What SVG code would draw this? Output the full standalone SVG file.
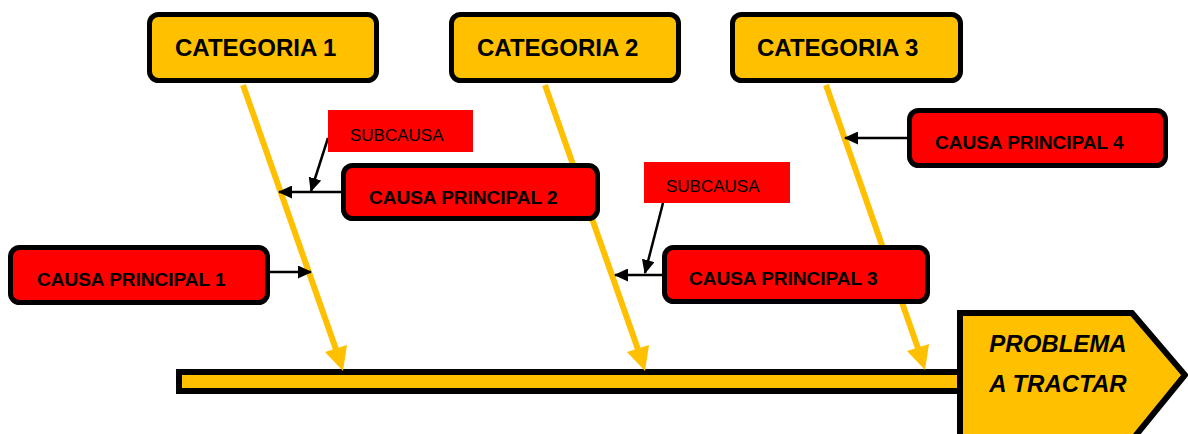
<svg xmlns="http://www.w3.org/2000/svg" width="1188" height="434" viewBox="0 0 1188 434">
  <defs>
    <style>
      .cat { fill: #FFC000; stroke: #000; stroke-width: 5; }
      .cause { fill: #FF0000; stroke: #000; stroke-width: 5; }
      .sub { fill: #FF0000; }
      .bold { font-family: "Liberation Sans", Arial, sans-serif; font-weight: bold; fill: #000; }
      .t-cat { font-size: 24px; }
      .t-cause { font-size: 19px; }
      .t-sub { font-family: "Liberation Sans", Arial, sans-serif; font-size: 17px; fill: #000; }
      .t-prob { font-family: "Liberation Sans", Arial, sans-serif; font-weight: bold; font-style: italic; font-size: 24px; fill: #000; }
      .bone { stroke: #FFC000; stroke-width: 6; fill: none; }
      .link { stroke: #000; stroke-width: 2.5; fill: none; marker-end: url(#blackHead); }
    </style>
    <marker id="blackHead" markerWidth="14" markerHeight="13" refX="13" refY="6.5" orient="auto" markerUnits="userSpaceOnUse" viewBox="0 0 14 13">
      <path d="M0,0 L14,6.5 L0,13 Z" fill="#000"/>
    </marker>
  </defs>

  <!-- main spine -->
  <g id="spine">
    <rect x="179" y="372" width="784" height="19" fill="#FFC000" stroke="#000" stroke-width="6"/>
  </g>

  <!-- category bones with yellow arrowheads -->
  <g id="connectors">
    <line class="bone" x1="243" y1="85" x2="338" y2="355"/>
    <path d="M325,352 L347,345 L343,371 Z" fill="#FFC000"/>
    <line class="bone" x1="545" y1="85" x2="640" y2="355"/>
    <path d="M627,352 L649,345 L645,371 Z" fill="#FFC000"/>
    <line class="bone" x1="826" y1="85" x2="920" y2="354"/>
    <path d="M907,351 L929,344 L925,370 Z" fill="#FFC000"/>

    <!-- cause and sub-cause arrows -->
    <line class="link" x1="270" y1="272" x2="311" y2="272"/>
    <line class="link" x1="341" y1="192" x2="279" y2="192"/>
    <line class="link" x1="328" y1="138" x2="311" y2="191"/>
    <line class="link" x1="662" y1="275" x2="615" y2="275"/>
    <line class="link" x1="663" y1="203" x2="645" y2="273"/>
    <line class="link" x1="907" y1="138" x2="845" y2="138"/>
  </g>

  <!-- categories -->
  <g id="categoria1">
    <rect class="cat" x="149.5" y="14.5" width="227" height="66" rx="9"/>
    <text class="bold t-cat" x="175" y="56">CATEGORIA 1</text>
  </g>
  <g id="categoria2">
    <rect class="cat" x="451.5" y="14.5" width="227" height="66" rx="9"/>
    <text class="bold t-cat" x="477" y="56">CATEGORIA 2</text>
  </g>
  <g id="categoria3">
    <rect class="cat" x="732.5" y="14.5" width="228" height="66" rx="9"/>
    <text class="bold t-cat" x="757" y="56">CATEGORIA 3</text>
  </g>

  <!-- main causes -->
  <g id="causa1">
    <rect class="cause" x="10.5" y="247.5" width="257" height="55" rx="9"/>
    <text class="bold t-cause" x="37" y="286">CAUSA PRINCIPAL 1</text>
  </g>
  <g id="causa2">
    <rect class="cause" x="343.5" y="165.5" width="254" height="53" rx="9"/>
    <text class="bold t-cause" x="369" y="204">CAUSA PRINCIPAL 2</text>
  </g>
  <g id="causa3">
    <rect class="cause" x="664.5" y="247.5" width="263" height="54" rx="9"/>
    <text class="bold t-cause" x="689" y="285">CAUSA PRINCIPAL 3</text>
  </g>
  <g id="causa4">
    <rect class="cause" x="909.5" y="110.5" width="256" height="55" rx="9"/>
    <text class="bold t-cause" x="935" y="149">CAUSA PRINCIPAL 4</text>
  </g>

  <!-- sub-causes -->
  <g id="subcausa1">
    <rect class="sub" x="328" y="110" width="145" height="42"/>
    <text class="t-sub" x="350" y="141">SUBCAUSA</text>
  </g>
  <g id="subcausa2">
    <rect class="sub" x="644" y="162" width="146" height="41"/>
    <text class="t-sub" x="666" y="192">SUBCAUSA</text>
  </g>

  <!-- problem head -->
  <g id="problema">
    <path d="M960,313 L1132,313 L1185,375 L1132,440 L960,440 Z" fill="#FFC000" stroke="#000" stroke-width="6" stroke-linejoin="miter"/>
    <text class="t-prob" x="1058" y="352" text-anchor="middle">PROBLEMA</text>
    <text class="t-prob" x="1058" y="392" text-anchor="middle">A TRACTAR</text>
  </g>
</svg>
